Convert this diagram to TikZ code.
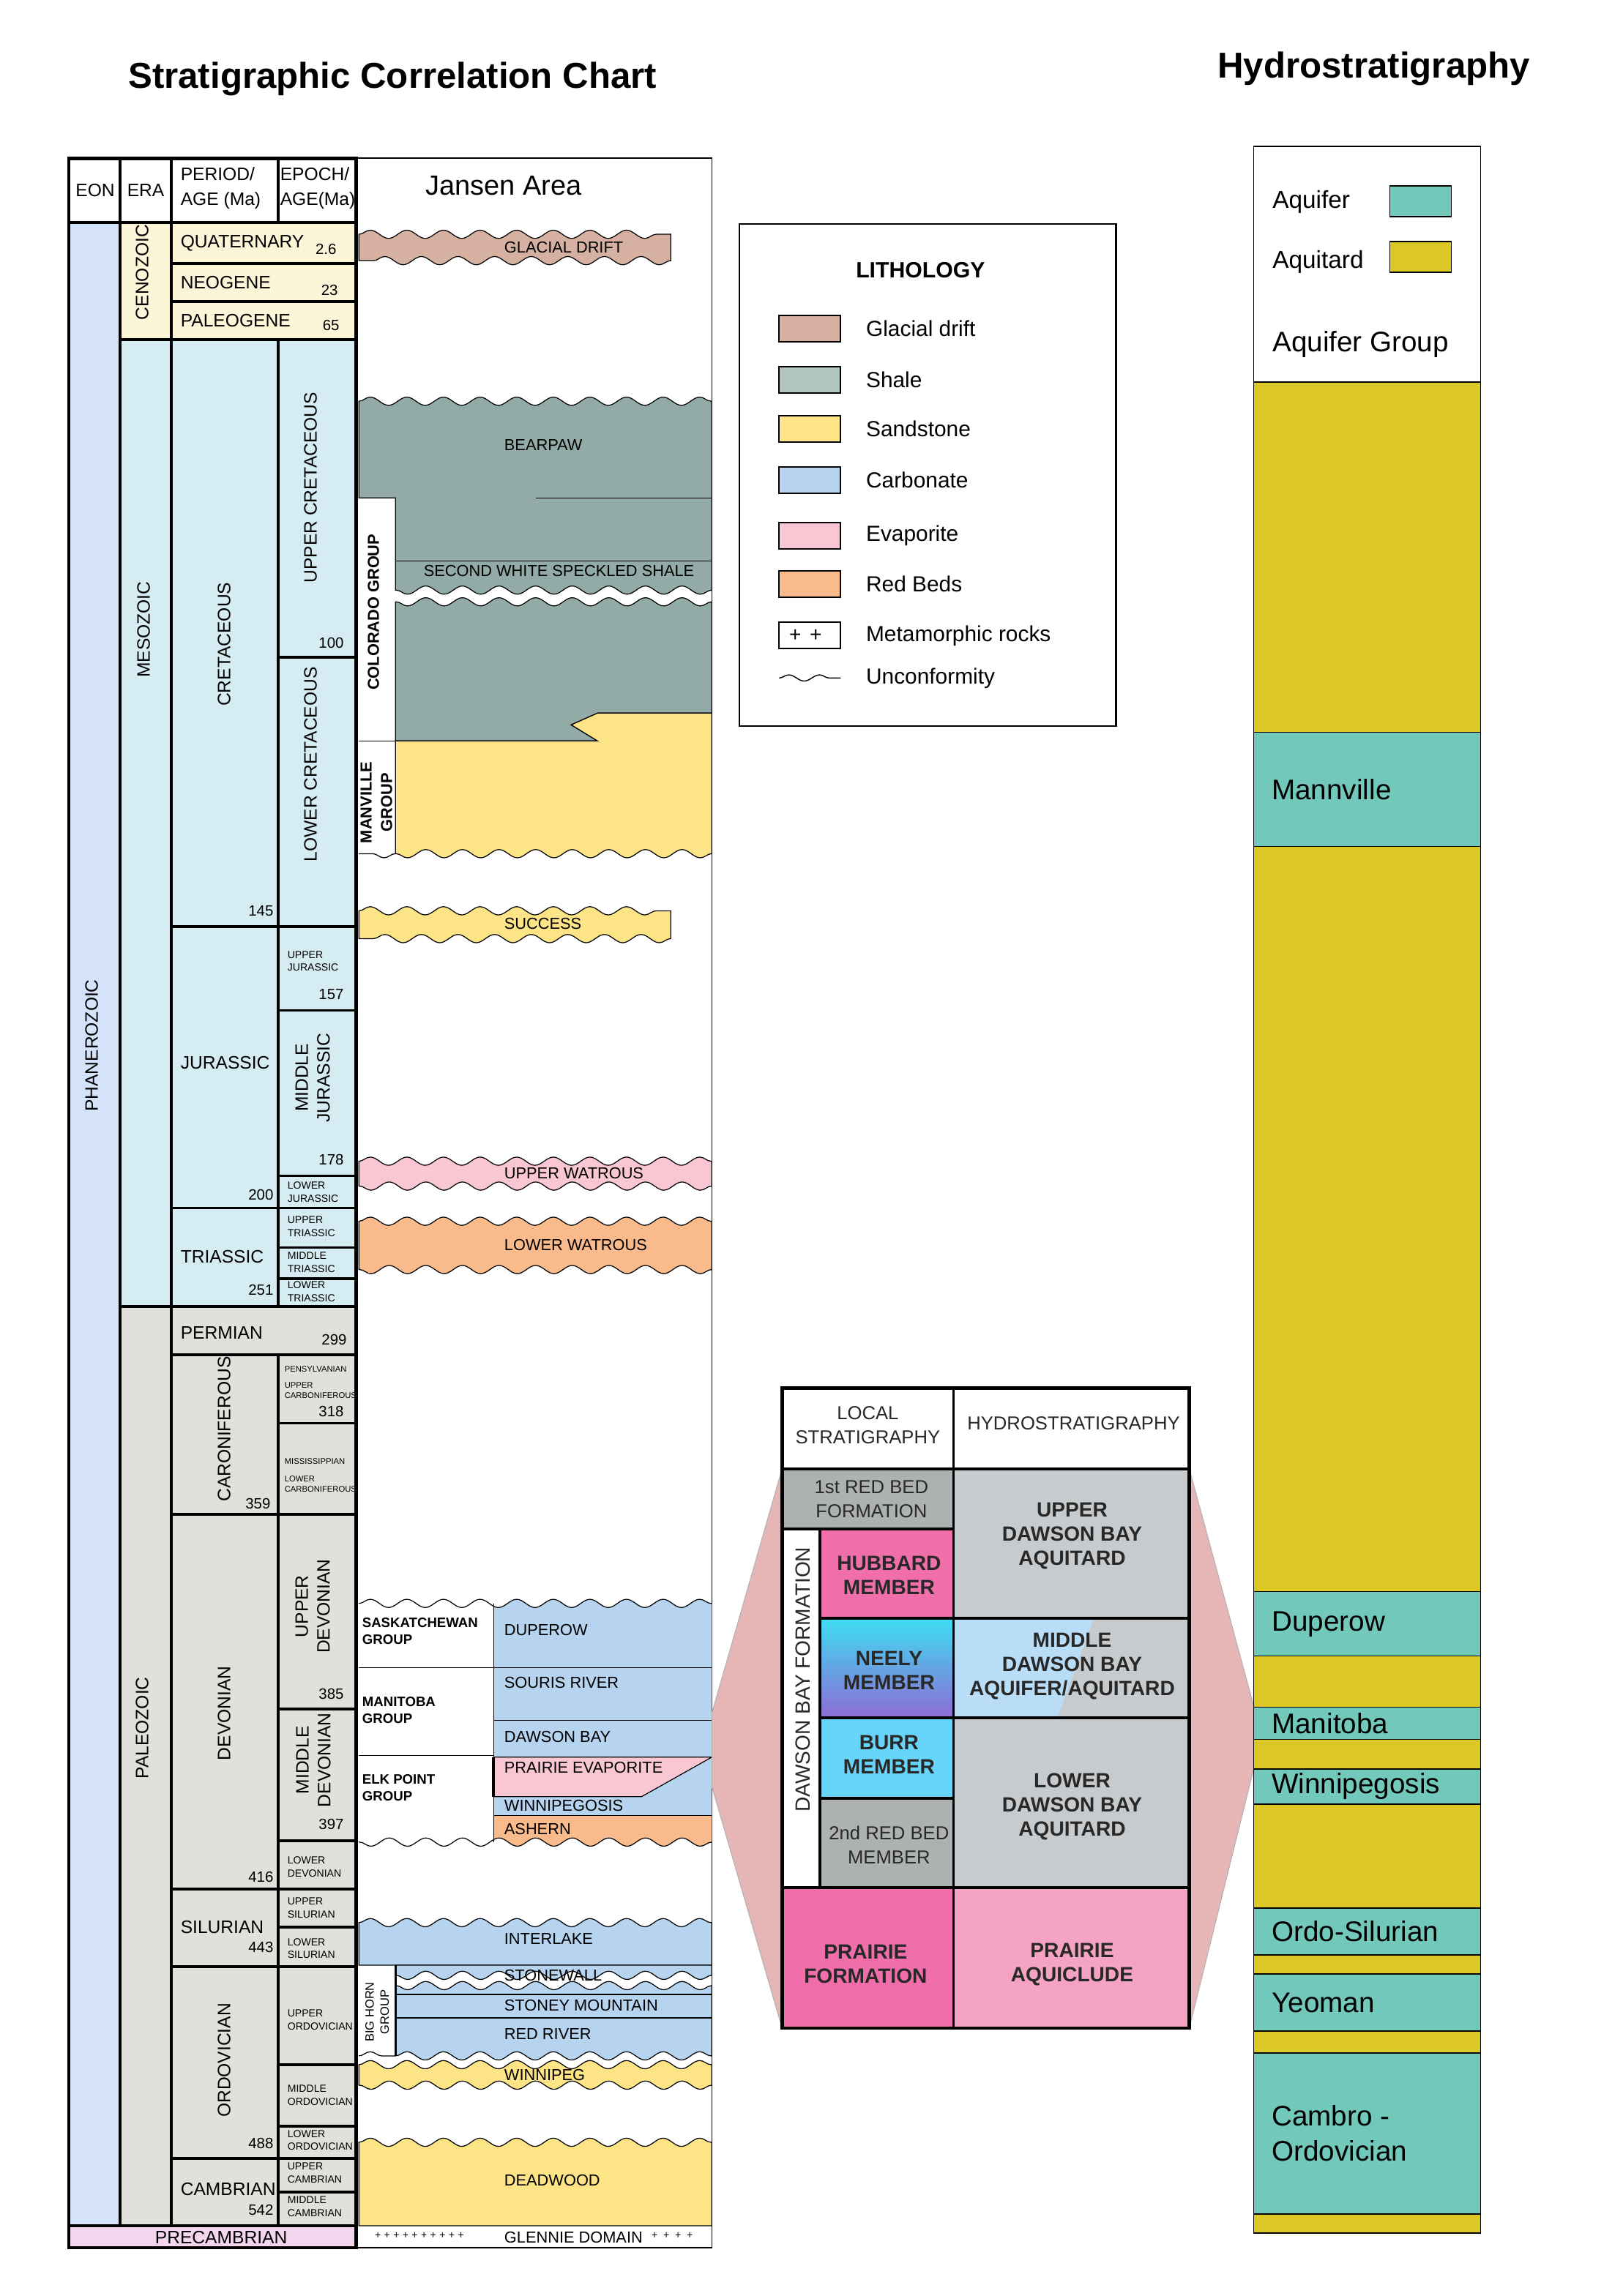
\documentclass[tikz,border=0pt]{standalone}
\usepackage{fontspec}
\setmainfont{Liberation Sans}
\usetikzlibrary{decorations.pathmorphing}
\definecolor{cEon}{RGB}{212,227,250}
\definecolor{cCeno}{RGB}{253,245,216}
\definecolor{cMeso}{RGB}{214,236,243}
\definecolor{cPaleo}{RGB}{225,225,219}
\definecolor{cPrecam}{RGB}{243,214,238}
\definecolor{cDrift}{RGB}{214,176,160}
\definecolor{cShale}{RGB}{147,171,166}
\definecolor{cShaleKey}{RGB}{176,198,188}
\definecolor{cSand}{RGB}{253,228,135}
\definecolor{cCarb}{RGB}{182,212,239}
\definecolor{cEvap}{RGB}{248,199,211}
\definecolor{cRed}{RGB}{249,187,139}
\definecolor{cFunnel}{RGB}{230,181,182}
\definecolor{cBedGrey}{RGB}{174,177,177}
\definecolor{cHubbard}{RGB}{240,110,170}
\definecolor{cNeelyTop}{RGB}{62,221,242}
\definecolor{cNeelyBot}{RGB}{142,108,213}
\definecolor{cBurr}{RGB}{102,213,249}
\definecolor{cHydGrey}{RGB}{200,203,206}
\definecolor{cHydBlue}{RGB}{185,221,247}
\definecolor{cAquiclude}{RGB}{244,164,194}
\definecolor{cAquifer}{RGB}{114,200,187}
\definecolor{cAquitard}{RGB}{220,200,36}
\definecolor{cInk}{RGB}{40,40,40}
\tikzset{
	% time scale
	rule/.style={line width=1.1pt},
	hair/.style={line width=0.4pt},
	ttl/.style={font=\bfseries\fontsize{14}{16}\selectfont, inner sep=0pt},
	hdr/.style={font=\fontsize{7}{9.5}\selectfont, align=left, inner sep=0pt},
	per/.style={font=\fontsize{7}{8}\selectfont, inner sep=0pt, anchor=west},
	vper/.style={font=\fontsize{7}{8.5}\selectfont, inner sep=0pt, rotate=90, align=center},
	age/.style={font=\fontsize{5.8}{7}\selectfont, inner sep=0pt, anchor=east},
	epo/.style={font=\fontsize{4}{5}\selectfont, inner sep=0pt, anchor=west, align=left},
	carb/.style={font=\fontsize{3.2}{4.2}\selectfont, inner sep=0pt, anchor=west, align=left},
	% lithology columns
	lay/.style={draw=black, line width=0.35pt},
	wavy/.style={decoration={snake, amplitude=1.6pt, segment length=0.5cm}},
	fm/.style={font=\fontsize{6.2}{7}\selectfont, inner sep=0pt, anchor=west},
	grp/.style={font=\bfseries\fontsize{5.3}{6.6}\selectfont, inner sep=0pt, anchor=west, align=left},
	vgrp/.style={font=\bfseries\fontsize{6.2}{8}\selectfont, inner sep=0pt, rotate=90, align=center},
	plus/.style={font=\fontsize{4}{5}\selectfont, inner sep=0pt},
	% legend
	key/.style={draw=black, line width=0.6pt},
	keytxt/.style={font=\fontsize{8.5}{10}\selectfont, inner sep=0pt, anchor=west},
	% dawson bay table
	cell/.style={draw=black, line width=1.1pt},
	dbb/.style={font=\bfseries\fontsize{8}{9.4}\selectfont, align=center, inner sep=0pt, text=cInk},
	dbr/.style={font=\fontsize{7.3}{9.4}\selectfont, align=center, inner sep=0pt, text=cInk},
	funnel/.style={fill=cFunnel, draw=gray!60, line width=0.3pt},
	% hydrostratigraphy
	hyd/.style={draw=black, line width=0.4pt},
	hkey/.style={font=\fontsize{9.5}{11}\selectfont, inner sep=0pt, anchor=west},
	hydtxt/.style={font=\fontsize{11}{13.7}\selectfont, inner sep=0pt, anchor=west, align=left},
}
\newcommand{\wband}[5]{\filldraw[lay, fill=#5] (#1,#3) decorate[wavy]{-- (#2,#3)} -- (#2,#4) decorate[wavy]{-- (#1,#4)} -- cycle;}

\begin{document}
\begin{tikzpicture}[x=0.02cm, y=-0.02cm]
	\fill[white] (0,0) rectangle (1108,1568);
	\useasboundingbox (0,0) rectangle (1108,1568);
	\node[ttl] (ttl1) at (268,54) {Stratigraphic Correlation Chart};
	\node[ttl] (ttl2) at (938,47) {Hydrostratigraphy};

	% time scale fills
	\fill[cEon] (47,152) rectangle (82,1520);
	\fill[cCeno] (82,152) rectangle (243,232);
	\fill[cMeso] (82,232) rectangle (243,892);
	\fill[cPaleo] (82,892) rectangle (243,1520);
	\fill[cPrecam] (47,1520) rectangle (243,1535);

	% jansen area
	\draw[hair] (243,108) rectangle (486,1535);
	\node[font=\fontsize{10.8}{12}\selectfont, inner sep=0pt] (jansen) at (344,127) {Jansen Area};
	\wband{245}{458}{160}{178}{cDrift}
	\node[fm] (drift) at (344,169) {GLACIAL DRIFT};
	% cretaceous
	\filldraw[lay, fill=cShale] (245,274) decorate[wavy]{-- (486,274)} -- (486,403) decorate[wavy]{-- (270,403)} -- (270,340) -- (245,340) -- cycle;
	\draw[lay] (366,340) -- (486,340) (270,383) -- (486,383);
	\filldraw[lay, fill=cShale] (486,411) decorate[wavy]{-- (270,411)} -- (270,506) -- (408,506) -- (390,495) -- (408,487) -- (486,487) -- cycle;
	\filldraw[lay, fill=cSand] (408,487) -- (486,487) -- (486,583) decorate[wavy]{-- (270,583)} -- (270,506) -- (408,506) -- (390,495) -- cycle;
	\draw[lay] (245,506) -- (270,506);
	\draw[lay] (270,583) decorate[wavy]{-- (245,583)};
	\node[fm] (bearpaw) at (344,304) {BEARPAW};
	\node[fm] (sws) at (289,390) {SECOND WHITE SPECKLED SHALE};
	\node[vgrp] (colorado) at (255,418) {COLORADO GROUP};
	\node[vgrp] (manville) at (257,548) {MANVILLE\\GROUP};
	\wband{245}{458}{622}{641}{cSand}
	\node[fm] (success) at (344,631) {SUCCESS};
	% jurassic, triassic
	\wband{245}{486}{793}{810}{cEvap}
	\node[fm] (uwat) at (344,801) {UPPER WATROUS};
	\wband{245}{486}{834}{867}{cRed}
	\node[fm] (lwat) at (344,850) {LOWER WATROUS};

	% devonian
	\begin{scope}
		\clip (337,1080) rectangle (486,1270);
		\fill[cCarb] (245,1095) decorate[wavy]{-- (486,1095)} -- (486,1240) -- (245,1240) -- cycle;
		\fill[cRed] (245,1240) -- (486,1240) -- (486,1258) decorate[wavy]{-- (245,1258)} -- cycle;
	\end{scope}
	\draw[lay] (245,1095) decorate[wavy]{-- (486,1095)};
	\draw[lay] (486,1258) decorate[wavy]{-- (245,1258)};
	\filldraw[lay, fill=cEvap] (337,1200) -- (486,1200) -- (438,1227) -- (337,1227) -- cycle;
	\draw[lay] (337,1139) -- (486,1139) (337,1175) -- (486,1175) (337,1240) -- (486,1240);
	\draw[lay] (245,1139) -- (337,1139) (245,1199) -- (337,1199);
	\draw[lay] (337,1095) -- (337,1258);
	\draw[line width=1.2pt] (337,1200) -- (337,1227);
	\node[grp] (sask) at (247,1114) {SASKATCHEWAN\\GROUP};
	\node[grp] (mangrp) at (247,1168) {MANITOBA\\GROUP};
	\node[grp] (elk) at (247,1221) {ELK POINT\\GROUP};
	\node[fm] (duperow) at (344,1113) {DUPEROW};
	\node[fm] (souris) at (344,1149) {SOURIS RIVER};
	\node[fm] (dawson) at (344,1186) {DAWSON BAY};
	\node[fm] (prairie) at (344,1207) {PRAIRIE EVAPORITE};
	\node[fm] (winnipegosis) at (344,1233) {WINNIPEGOSIS};
	\node[fm] (ashern) at (344,1249) {ASHERN};

	% silurian to cambrian
	\filldraw[lay, fill=cCarb] (245,1313) decorate[wavy]{-- (486,1313)} -- (486,1342) -- (245,1342) -- cycle;
	\filldraw[lay, fill=cCarb] (270,1342) -- (486,1342) -- (486,1349) decorate[wavy]{-- (270,1349)} -- cycle;
	\filldraw[lay, fill=cCarb] (486,1356) decorate[wavy]{-- (270,1356)} -- (270,1404) decorate[wavy]{-- (486,1404)} -- cycle;
	\draw[lay] (270,1362) -- (486,1362) (270,1378) -- (486,1378);
	\draw[lay] (245,1404) decorate[wavy]{-- (270,1404)};
	\draw[line width=0.8pt] (270,1342) -- (270,1404);
	\node[font=\fontsize{4.7}{5.8}\selectfont, rotate=90, align=center, inner sep=0pt] (bighorn) at (257.5,1374) {BIG HORN\\GROUP};
	\node[fm] (interlake) at (344,1324) {INTERLAKE};
	\node[fm] (stonewall) at (344,1349) {STONEWALL};
	\node[fm] (stoney) at (344,1369.5) {STONEY MOUNTAIN};
	\node[fm] (redriver) at (344,1389) {RED RIVER};
	\wband{245}{486}{1410}{1424}{cSand}
	\node[fm] (winnipeg) at (344,1417) {WINNIPEG};
	\filldraw[lay, fill=cSand] (245,1463) decorate[wavy]{-- (486,1463)} -- (486,1520) -- (245,1520) -- cycle;
	\node[fm] (deadwood) at (344,1489) {DEADWOOD};
	\node[fm] (glennie) at (344,1528) {GLENNIE DOMAIN};
	\foreach \i in {0,...,9}
		\node[plus] (pl\i) at (258+6.3*\i,1526.5) {+};
	\foreach \i in {0,...,3}
		\node[plus] (pr\i) at (447+8*\i,1526.5) {+};

	% time scale rules
	\draw[rule] (47,152) -- (243,152) (47,1520) -- (243,1520);
	\draw[rule] (82,108) -- (82,1520) (117,108) -- (117,1520);
	\draw[rule] (190,108) -- (190,152) (190,232) -- (190,892) (190,925) -- (190,1520);
	\draw[rule] (82,232) -- (243,232) (82,892) -- (243,892);
	\foreach \y in {180,206,633,825,925,1034,1290,1343,1474}
		\draw[rule] (117,\y) -- (243,\y);
	\foreach \y in {449,690,803,852,873,1167,1257,1316,1410,1452,1497}
		\draw[rule] (190,\y) -- (243,\y);
	\draw[hair, line width=0.7pt] (190,972) -- (243,972);
	\draw[rule, line width=1.4pt] (47,108) rectangle (243,1535);

	% time scale texts
	\node[hdr] (eon) at (65,130) {EON};
	\node[hdr] (era) at (99.5,130) {ERA};
	\node[hdr, anchor=west] (period) at (123,128.5) {PERIOD/\\AGE (Ma)};
	\node[hdr, anchor=west] (epoch) at (191,128.5) {EPOCH/\\AGE(Ma)};
	\foreach \n/\y/\t in {q/166/QUATERNARY, ng/193/NEOGENE, pg/219/PALEOGENE, j/726/JURASSIC, tr/858/TRIASSIC, pm/910/PERMIAN, s/1316/SILURIAN, cm/1495/CAMBRIAN}
		\node[per] (\n) at (123,\y) {\t};
	\node[per, anchor=center] (precam) at (151,1528) {PRECAMBRIAN};
	\foreach \x/\y/\a [count=\i] in {230/170/2.6, 231/198/23, 232/222/65, 187/622/145, 235/439/100, 235/679/157, 235/792/178, 187/816/200, 187/881/251, 237/915/299, 235/964/318, 185/1027/359, 235/1157/385, 235/1246/397, 187/1282/416, 187/1330/443, 187/1464/488, 187/1509/542}
		\node[age] (age\i) at (\x,\y) {\a};
	\foreach \y/\t [count=\i] in {656.5/{UPPER\\JURASSIC}, 814/{LOWER\\JURASSIC}, 837.5/{UPPER\\TRIASSIC}, 862/{MIDDLE\\TRIASSIC}, 882/{LOWER\\TRIASSIC}, 1275/{LOWER\\DEVONIAN}, 1303/{UPPER\\SILURIAN}, 1330.7/{LOWER\\SILURIAN}, 1379.5/{UPPER\\ORDOVICIAN}, 1431/{MIDDLE\\ORDOVICIAN}, 1461.5/{LOWER\\ORDOVICIAN}, 1484/{UPPER\\CAMBRIAN}, 1507/{MIDDLE\\CAMBRIAN}}
		\node[epo] (ep\i) at (196,\y) {\t};
	\node[carb] (penn) at (194,935) {PENSYLVANIAN};
	\node[carb] (ucarb) at (194,949.5) {UPPER\\CARBONIFEROUS};
	\node[carb] (miss) at (194,998) {MISSISSIPPIAN};
	\node[carb] (lcarb) at (194,1013.5) {LOWER\\CARBONIFEROUS};
	\foreach \x/\y/\t [count=\i] in {62.5/714/PHANEROZOIC, 97/186/CENOZOIC, 98/430/MESOZOIC, 97/1180/PALEOZOIC, 153/440/CRETACEOUS, 212/333/UPPER CRETACEOUS, 212/522/LOWER CRETACEOUS, 213.5/736/{MIDDLE\\JURASSIC}, 153/976/CARONIFEROUS, 153/1170/DEVONIAN, 213.5/1097/{UPPER\\DEVONIAN}, 214/1202/{MIDDLE\\DEVONIAN}, 153/1407/ORDOVICIAN}
		\node[vper] (v\i) at (\x,\y) {\t};

	% lithology legend
	\draw[key] (505,153) rectangle (762,496);
	\node[font=\bfseries\fontsize{8.6}{10}\selectfont, inner sep=0pt] (litho) at (628.5,184.5) {LITHOLOGY};
	\foreach \y/\c/\t [count=\i] in {224.5/cDrift/Glacial drift, 259.5/cShaleKey/Shale, 293/cSand/Sandstone, 328/cCarb/Carbonate, 366/cEvap/Evaporite, 399/cRed/Red Beds}{
		\filldraw[key, fill=\c] (532,\y-9) rectangle (574,\y+9);
		\node[keytxt] (k\i) at (591,\y) {\t};
	}
	\draw[key] (532,425) rectangle (574,443);
	\node[plus, font=\fontsize{8}{9}\selectfont] (kp1) at (543,434) {+};
	\node[plus, font=\fontsize{8}{9}\selectfont] (kp2) at (557,434) {+};
	\node[keytxt] (k7) at (591,434) {Metamorphic rocks};
	\draw[hair] (532,463) decorate[decoration={snake, amplitude=1.2pt, segment length=0.42cm}]{-- (574,463)};
	\node[keytxt] (k8) at (591,463) {Unconformity};

	% dawson bay detail
	\filldraw[funnel] (486,1170) -- (534,1003) -- (534,1385) -- (486,1220) -- cycle;
	\filldraw[funnel] (812,1003) -- (856,1165) -- (856,1208) -- (812,1385) -- cycle;
	\filldraw[cell, fill=white] (534,948) rectangle (651,1003);
	\filldraw[cell, fill=white] (651,948) rectangle (812,1003);
	\filldraw[cell, fill=cBedGrey] (534,1003) rectangle (651,1044);
	\filldraw[cell, fill=white] (534,1044) rectangle (560,1289);
	\filldraw[cell, fill=cHubbard] (560,1044) rectangle (651,1105);
	\shade[top color=cNeelyTop, bottom color=cNeelyBot] (560,1105) rectangle (651,1173);
	\draw[cell] (560,1105) rectangle (651,1173);
	\filldraw[cell, fill=cBurr] (560,1173) rectangle (651,1228);
	\filldraw[cell, fill=cBedGrey] (560,1228) rectangle (651,1289);
	\filldraw[cell, fill=cHubbard] (534,1289) rectangle (651,1385);
	\filldraw[cell, fill=cHydGrey] (651,1003) rectangle (812,1105);
	\fill[cHydGrey] (651,1105) rectangle (812,1173);
	\fill[cHydBlue] (651,1105) -- (747,1105) -- (722,1173) -- (651,1173) -- cycle;
	\draw[cell] (651,1105) rectangle (812,1173);
	\filldraw[cell, fill=cHydGrey] (651,1173) rectangle (812,1289);
	\filldraw[cell, fill=cAquiclude] (651,1289) rectangle (812,1385);
	\draw[cell, line width=1.3pt] (534,948) rectangle (812,1385);
	\node[dbr] (local) at (592.5,973.5) {LOCAL\\STRATIGRAPHY};
	\node[dbr] (hydhead) at (733,972) {HYDROSTRATIGRAPHY};
	\node[dbr] (rb1) at (595,1024) {1st RED BED\\FORMATION};
	\node[dbr, rotate=90, font=\fontsize{8}{9}\selectfont] (dbf) at (548,1147) {DAWSON BAY FORMATION};
	\node[dbb] (hubbard) at (607,1076) {HUBBARD\\MEMBER};
	\node[dbb] (neely) at (607,1141) {NEELY\\MEMBER};
	\node[dbb] (burr) at (607,1198.5) {BURR\\MEMBER};
	\node[dbr] (rb2) at (607,1260) {2nd RED BED\\MEMBER};
	\node[dbb] (pfm) at (591,1341.5) {PRAIRIE\\FORMATION};
	\node[dbb] (udb) at (732,1049) {UPPER\\DAWSON BAY\\AQUITARD};
	\node[dbb] (mdb) at (732,1138) {MIDDLE\\DAWSON BAY\\AQUIFER/AQUITARD};
	\node[dbb] (ldb) at (732,1234) {LOWER\\DAWSON BAY\\AQUITARD};
	\node[dbb] (paq) at (732,1341.5) {PRAIRIE\\AQUICLUDE};

	% hydrostratigraphy column
	\fill[cAquitard] (856,261) rectangle (1011,1525);
	\foreach \a/\b/\t [count=\i] in {500/578/Mannville, 1087/1131/Duperow, 1166/1188/Manitoba, 1208/1232/Winnipegosis, 1303/1335/Ordo-Silurian, 1348/1387/Yeoman, 1402/1512/{Cambro -\\Ordovician}}{
		\filldraw[hyd, fill=cAquifer] (856,\a) rectangle (1011,\b);
		\node[hydtxt] (h\i) at (868,{(\a+\b)/2}) {\t};
	}
	\draw[hyd] (856,100) rectangle (1011,1525);
	\draw[hyd] (856,261) -- (1011,261);
	\node[hkey] (aqf) at (868.5,138) {Aquifer};
	\filldraw[hyd, fill=cAquifer] (949,127) rectangle (991,148);
	\node[hkey] (aqt) at (868.5,179) {Aquitard};
	\filldraw[hyd, fill=cAquitard] (949,165) rectangle (991,186);
	\node[hydtxt] (aqg) at (868.5,235) {Aquifer Group};
\end{tikzpicture}
\end{document}
